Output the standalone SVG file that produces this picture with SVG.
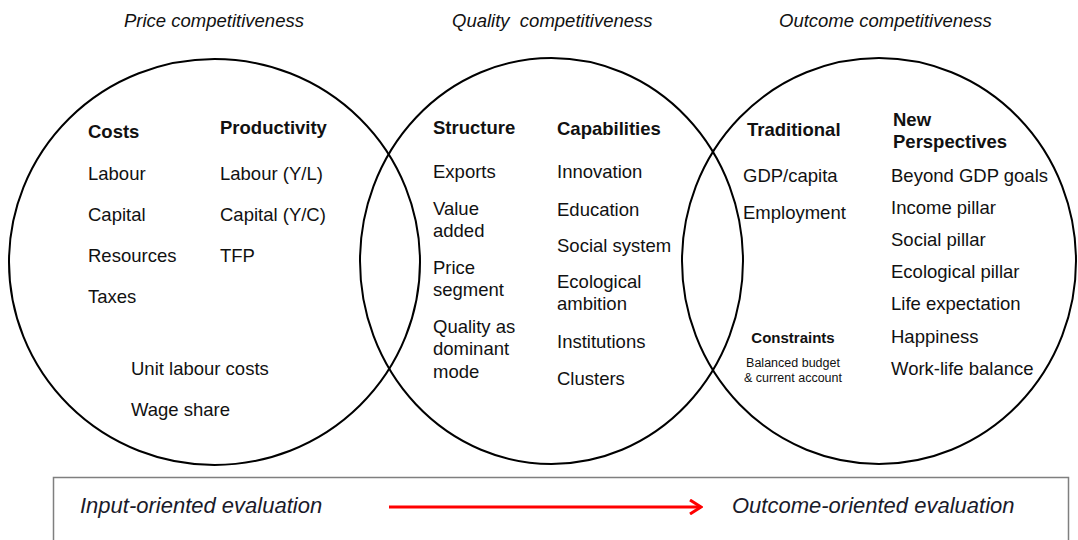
<svg xmlns="http://www.w3.org/2000/svg" width="1078" height="540" viewBox="0 0 1078 540">
<style>
text{font-family:"Liberation Sans",Arial,sans-serif;fill:#111}
.t{font-size:18.5px;font-style:italic}
.b{font-size:18.5px}
.h{font-size:18.5px;font-weight:bold}
.c{fill:none;stroke:#000;stroke-width:2}
.e{font-size:22px;font-style:italic;fill:#1a1a2a}
</style>
<defs>
<marker id="ah" viewBox="0 0 14 16" refX="12" refY="8" markerWidth="14" markerHeight="16" markerUnits="userSpaceOnUse" orient="auto">
<path d="M1,1 L12,8 L1,15" fill="none" stroke="#f00" stroke-width="3"/>
</marker>
</defs>
<rect width="1078" height="540" fill="#fff"/>
<g id="price">
<ellipse class="c" cx="214.5" cy="262" rx="205.5" ry="203"/>
<text class="t" x="124" y="27">Price competitiveness</text>
<text class="h" x="88" y="138">Costs</text>
<text class="h" x="220" y="134">Productivity</text>
<text class="b" x="88" y="180">Labour</text>
<text class="b" x="88" y="221">Capital</text>
<text class="b" x="88" y="262">Resources</text>
<text class="b" x="88" y="303">Taxes</text>
<text class="b" x="220" y="180">Labour (Y/L)</text>
<text class="b" x="220" y="221">Capital (Y/C)</text>
<text class="b" x="220" y="262">TFP</text>
<text class="b" x="131" y="375">Unit labour costs</text>
<text class="b" x="131" y="416">Wage share</text>
</g>
<g id="quality">
<ellipse class="c" cx="551.5" cy="261" rx="191.5" ry="203"/>
<text class="t" x="452" y="27" xml:space="preserve">Quality  competitiveness</text>
<text class="h" x="433" y="134">Structure</text>
<text class="b" x="433" y="178">Exports</text>
<text class="b" x="433" y="215">Value</text>
<text class="b" x="433" y="237">added</text>
<text class="b" x="433" y="274">Price</text>
<text class="b" x="433" y="296">segment</text>
<text class="b" x="433" y="333">Quality as</text>
<text class="b" x="433" y="355">dominant</text>
<text class="b" x="433" y="378">mode</text>
<text class="h" x="557" y="135">Capabilities</text>
<text class="b" x="557" y="178">Innovation</text>
<text class="b" x="557" y="216">Education</text>
<text class="b" x="557" y="252">Social system</text>
<text class="b" x="557" y="288">Ecological</text>
<text class="b" x="557" y="310">ambition</text>
<text class="b" x="557" y="348">Institutions</text>
<text class="b" x="557" y="385">Clusters</text>
</g>
<g id="outcome">
<ellipse class="c" cx="879" cy="261" rx="197" ry="203"/>
<text class="t" x="779" y="27">Outcome competitiveness</text>
<text class="h" x="747" y="136">Traditional</text>
<text class="b" x="743" y="182">GDP/capita</text>
<text class="b" x="743" y="219">Employment</text>
<text style="font-size:15px;font-weight:bold" x="793" y="343" text-anchor="middle">Constraints</text>
<text style="font-size:12.5px" x="793" y="367" text-anchor="middle">Balanced budget</text>
<text style="font-size:12.5px" x="793" y="382" text-anchor="middle">&amp; current account</text>
<text class="h" x="893" y="126">New</text>
<text class="h" x="893" y="148">Perspectives</text>
<text class="b" x="891" y="182">Beyond GDP goals</text>
<text class="b" x="891" y="214">Income pillar</text>
<text class="b" x="891" y="246">Social pillar</text>
<text class="b" x="891" y="278">Ecological pillar</text>
<text class="b" x="891" y="310">Life expectation</text>
<text class="b" x="891" y="343">Happiness</text>
<text class="b" x="891" y="375">Work-life balance</text>
</g>
<g id="evaluation">
<rect x="53.5" y="477.5" width="1015" height="80" fill="none" stroke="#7f7f7f" stroke-width="1.5"/>
<text class="e" x="80" y="513">Input-oriented evaluation</text>
<text class="e" x="732" y="513">Outcome-oriented evaluation</text>
</g>
<g id="connectors">
<line x1="389" y1="507" x2="701" y2="507" stroke="#f00" stroke-width="3" marker-end="url(#ah)"/>
</g>
</svg>
